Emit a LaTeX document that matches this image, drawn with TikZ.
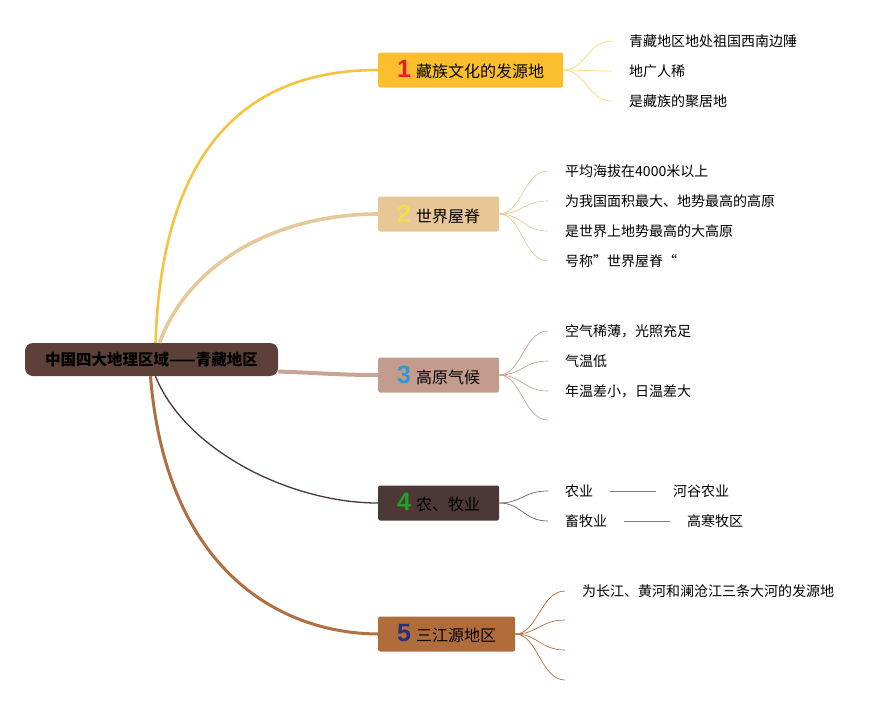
\documentclass[tikz,border=0pt]{standalone}
\usepackage{fontspec}
\setmainfont{Noto Sans CJK SC}
\newfontfamily\numfont{Liberation Sans}
\usetikzlibrary{calc}

\definecolor{rootc}{HTML}{5D4037}
\definecolor{boxa}{HTML}{FBBF2E}
\definecolor{boxb}{HTML}{E8C695}
\definecolor{boxc}{HTML}{C49C8D}
\definecolor{boxd}{HTML}{4D3838}
\definecolor{boxe}{HTML}{B06C3B}
\definecolor{linea}{HTML}{F5C242}
\definecolor{lineb}{HTML}{E6C89A}
\definecolor{linec}{HTML}{C9A396}
\definecolor{lined}{HTML}{4A3737}
\definecolor{linee}{HTML}{B06F42}
\definecolor{numa}{HTML}{E3202A}
\definecolor{numb}{HTML}{F2DE4B}
\definecolor{numc}{HTML}{2B9BD8}
\definecolor{numd}{HTML}{22A02A}
\definecolor{nume}{HTML}{262F80}

\tikzset{
  topic/.style={anchor=west, rounded corners=2pt, minimum height=35pt,
    inner xsep=19pt, inner ysep=0pt, font=\fontsize{16}{16}\selectfont},
  leaf/.style={anchor=west, inner xsep=17pt, inner ysep=0pt,
    font=\fontsize{14}{14}\selectfont},
  twig/.style={line width=0.7pt}
}
\newcommand{\numlabel}[2]{{\numfont\bfseries\fontsize{25}{25}\selectfont\color{#1}#2}\hspace{5pt}}

\begin{document}
\begin{tikzpicture}[x=1pt,y=-1pt]
\useasboundingbox (0,0) rectangle (893,705);
% root
\node (root) [fill=rootc, rounded corners=8pt, minimum width=253pt, minimum height=33pt,
  font=\bfseries\fontsize{15.5}{16}\selectfont] at (151.5,359.5) {中国四大地理区域——青藏地区};
% topics
\node (b1) [topic, fill=boxa] at (378,70) {\numlabel{numa}{1}藏族文化的发源地};
\node (b2) [topic, fill=boxb] at (378,214) {\numlabel{numb}{2}世界屋脊};
\node (b3) [topic, fill=boxc] at (378,375) {\numlabel{numc}{3}高原气候};
\node (b4) [topic, fill=boxd] at (378,503) {\numlabel{numd}{4}农、牧业};
\node (b5) [topic, fill=boxe] at (378,634) {\numlabel{nume}{5}三江源地区};
% main branches
\draw [linea, line width=2.6pt] ([xshift=4pt]root.north) .. controls (162,150) and (245,70) .. (b1.west);
\draw [lineb, line width=3.6pt] ([xshift=8pt]root.north) .. controls (190,260) and (280,214) .. (b2.west);
\draw [linec, line width=4pt] ([yshift=-12pt]root.east) .. controls (320,373) and (340,375) .. (b3.west);
\draw [lined, line width=1.3pt] ([xshift=4pt]root.south) .. controls (185,450) and (290,503) .. (b4.west);
\draw [linee, line width=3pt] ([xshift=-1pt]root.south) .. controls (165,560) and (270,633) .. (b5.west);
% leaves of 1
\node (l11) [leaf] at (612,41) {青藏地区地处祖国西南边陲};
\node (l12) [leaf] at (612,71) {地广人稀};
\node (l13) [leaf] at (612,101) {是藏族的聚居地};
\foreach \n in {l11,l12,l13}
  \draw [twig, linea!70] (b1.east) .. controls +(22,0) and +(-24,0) .. (\n.west);
% leaves of 2
\node (l21) [leaf] at (548,171) {平均海拔在4000米以上};
\node (l22) [leaf] at (548,201) {为我国面积最大、地势最高的高原};
\node (l23) [leaf] at (548,231) {是世界上地势最高的大高原};
\node (l24) [leaf] at (548,261) {号称”世界屋脊“};
\foreach \n in {l21,l22,l23,l24}
  \draw [twig, lineb] (b2.east) .. controls +(22,0) and +(-24,0) .. (\n.west);
% leaves of 3
\node (l31) [leaf] at (548,331) {空气稀薄，光照充足};
\node (l32) [leaf] at (548,361) {气温低};
\node (l33) [leaf] at (548,391) {年温差小，日温差大};
\coordinate (l34) at (548,420);
\draw [twig, linec] (b3.east) .. controls +(22,0) and +(-24,0) .. (l34);
\foreach \n in {l31,l32,l33}
  \draw [twig, linec] (b3.east) .. controls +(22,0) and +(-24,0) .. (\n.west);
% leaves of 4
\node (l41) [leaf] at (548,491) {农业};
\node (l42) [leaf] at (548,521) {畜牧业};
\node (l41b) [leaf] at (656,491) {河谷农业};
\node (l42b) [leaf] at (670,521) {高寒牧区};
\foreach \n in {l41,l42}
  \draw [twig, lined!80] (b4.east) .. controls +(22,0) and +(-24,0) .. (\n.west);
\draw [gray, line width=1pt] (l41.east) -- (l41b.west);
\draw [gray, line width=1pt] (l42.east) -- (l42b.west);
% leaves of 5
\node (l51) [leaf] at (565,591) {为长江、黄河和澜沧江三条大河的发源地};
\coordinate (l52) at (565,620);
\coordinate (l53) at (565,650);
\coordinate (l54) at (565,680);
\draw [twig, linee] (b5.east) .. controls +(22,0) and +(-24,0) .. (l51.west);
\foreach \n in {l52,l53,l54}
  \draw [twig, linee] (b5.east) .. controls +(22,0) and +(-24,0) .. (\n);
\end{tikzpicture}
\end{document}
